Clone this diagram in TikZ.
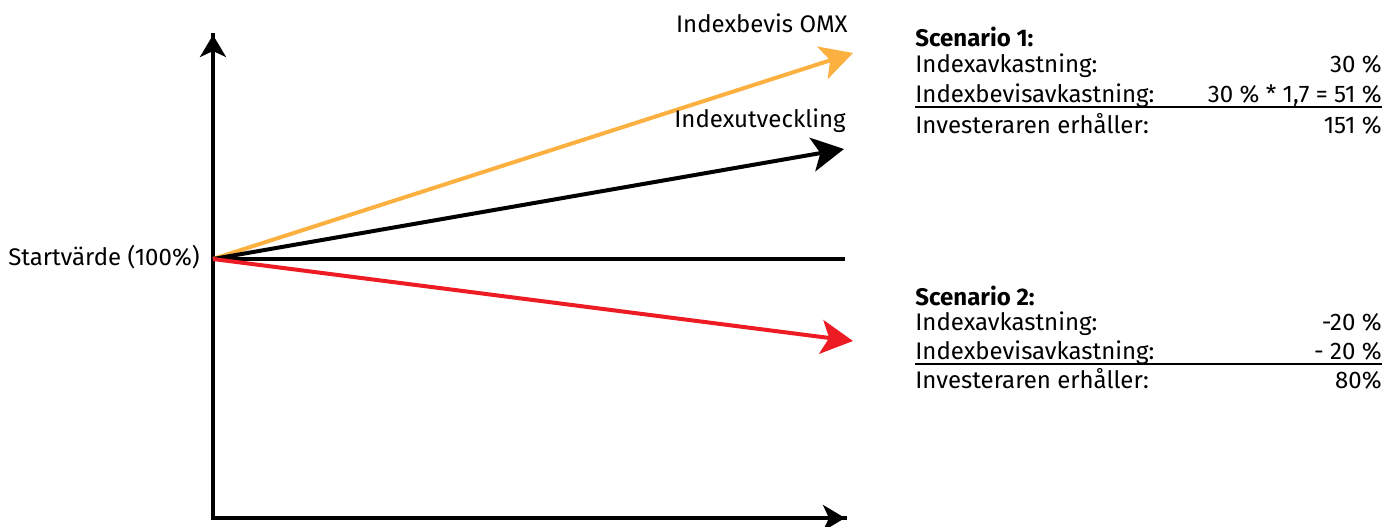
\documentclass[tikz,border=0pt]{standalone}
\usepackage{fontspec}
\setmainfont{Fira Sans}
\usetikzlibrary{arrows.meta}
\definecolor{borange}{HTML}{FBB040}
\definecolor{bred}{HTML}{ED1C24}
\tikzset{
  axisline/.style={line width=1.8pt, -{Stealth[length=11pt,width=13pt,inset=3pt]}},
  devline/.style={line width=2pt, -{Stealth[length=16pt,width=17pt,inset=4pt]}},
  lbl/.style={font=\fontsize{12pt}{14pt}\selectfont, inner sep=0pt},
}
\begin{document}
\begin{tikzpicture}[x=0.5pt,y=0.5pt]
\useasboundingbox (0,0) rectangle (1386,526);
% axes
\coordinate (corner) at (213,8);
\coordinate (ytip) at (213,491);
\coordinate (xtip) at (845,8);
\coordinate (o) at (213,267);
\draw[line width=1.8pt, line cap=rect] (ytip) -- (corner) -- (xtip);
\draw[axisline] (corner) -- (ytip);
\draw[axisline] (corner) -- (xtip);
% development lines
\coordinate (flat) at (845,267);
\coordinate (orangetip) at (853,473);
\coordinate (blacktip) at (844,377);
\coordinate (redtip) at (853,185);
\draw[line width=2pt] (o) -- (flat);
\draw[devline, borange] (o) -- (orangetip);
\draw[devline, black] (o) -- (blacktip);
\draw[devline, bred] (o) -- (redtip);
% labels
\node[lbl, anchor=base east] (lomx) at (848,493) {Indexbevis OMX};
\node[lbl, anchor=base east] (lidx) at (846,399) {Indexutveckling};
\node[lbl, anchor=base east] (lstart) at (200,261) {Startvärde (100\%)};
% scenario 1
\node[lbl, anchor=base west, font=\fontsize{12pt}{14pt}\selectfont\bfseries] (s1) at (915,479) {Scenario 1:};
\node[lbl, anchor=base west] (s1a) at (915,453) {Indexavkastning:};
\node[lbl, anchor=base east] (s1av) at (1382,453) {30 \%};
\node[lbl, anchor=base west] (s1b) at (915,423) {Indexbevisavkastning:};
\node[lbl, anchor=base east] (s1bv) at (1382,423) {30 \% * 1,7 = 51 \%};
\node[lbl, anchor=base west] (s1c) at (915,393) {Investeraren erhåller:};
\node[lbl, anchor=base east] (s1cv) at (1382,393) {151 \%};
\coordinate (u1a) at (915,419);
\coordinate (u1b) at (1382,419);
\draw[line width=0.8pt] (u1a) -- (u1b);
% scenario 2
\node[lbl, anchor=base west, font=\fontsize{12pt}{14pt}\selectfont\bfseries] (s2) at (915,221) {Scenario 2:};
\node[lbl, anchor=base west] (s2a) at (915,196) {Indexavkastning:};
\node[lbl, anchor=base east] (s2av) at (1382,196) {-20 \%};
\node[lbl, anchor=base west] (s2b) at (915,167) {Indexbevisavkastning:};
\node[lbl, anchor=base east] (s2bv) at (1382,167) {- 20 \%};
\node[lbl, anchor=base west] (s2c) at (915,138) {Investeraren erhåller:};
\node[lbl, anchor=base east] (s2cv) at (1382,138) {80\%};
\coordinate (u2a) at (915,162);
\coordinate (u2b) at (1382,162);
\draw[line width=0.8pt] (u2a) -- (u2b);
\end{tikzpicture}
\end{document}
